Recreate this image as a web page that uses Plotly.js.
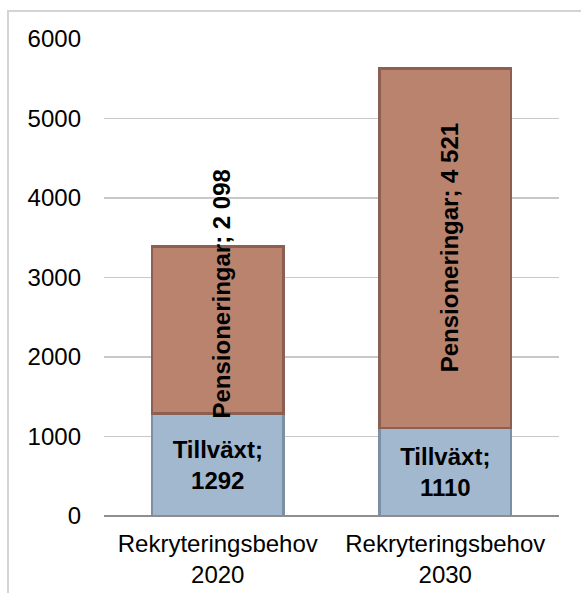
<!DOCTYPE html>
<html>
<head>
<meta charset="utf-8">
<script src="https://cdn.plot.ly/plotly-3.0.1.min.js"></script>
<style>
  html, body { margin: 0; padding: 0; background: #ffffff; }
  #wrap { position: relative; width: 581px; height: 593px; overflow: hidden; }
  #frame { position: absolute; left: 7px; top: 10px; width: 600px; height: 620px;
           border-left: 2px solid #D4D4D4; border-top: 2px solid #D4D4D4; }
  #chart { position: absolute; left: 0; top: 0; width: 581px; height: 593px; }
</style>
</head>
<body>
<div id="wrap">
  <div id="frame"></div>
  <div id="chart"></div>
</div>
<script>
// ---- data ----
var categories = ["Rekryteringsbehov<br>2020", "Rekryteringsbehov<br>2030"];
var tillvaxt = [1292, 1110];
var pensioneringar = [2098, 4521];
var seriesNames = ["Tillväxt", "Pensioneringar"];
var yTicks = [0, 1000, 2000, 3000, 4000, 5000, 6000];

function spaced(n) {
  return String(n).replace(/\B(?=(\d{3})+(?!\d))/g, " ");
}

var FONT = "Liberation Sans, Arial, sans-serif";
var FS = 24;

var traces = [
  {
    type: "bar",
    name: seriesNames[0],
    x: categories,
    y: tillvaxt,
    text: tillvaxt.map(function (v) { return "<b>" + seriesNames[0] + ";<br>" + v + "</b>"; }),
    textposition: "inside",
    insidetextanchor: "middle",
    textangle: 0,
    constraintext: "none",
    textfont: { family: FONT, size: FS, color: "#000000" },
    marker: { color: "#A2B8CF", line: { color: "#7D8FA3", width: 2.5 } },
    hoverinfo: "none"
  },
  {
    type: "bar",
    name: seriesNames[1],
    x: categories,
    y: pensioneringar,
    marker: { color: "#B9836E", line: { color: "#8C5F52", width: 2.5 } },
    hoverinfo: "none"
  }
];

// Pensioneringar labels: centred in the segment, or anchored at the segment base
// when the rotated text is longer than the segment (as the original does).
var plotH = 477, yMax = 6000, approxLen = 10.4 * FS;
var annotations = categories.map(function (c, i) {
  var segPx = pensioneringar[i] / yMax * plotH;
  var fits = segPx >= approxLen;
  return {
    x: c,
    y: fits ? tillvaxt[i] + pensioneringar[i] / 2 : tillvaxt[i],
    xref: "x", yref: "y",
    yanchor: fits ? "middle" : "bottom",
    yshift: fits ? 0 : -7,
    xshift: 4,
    text: "<b>" + seriesNames[1] + "; " + spaced(pensioneringar[i]) + "</b>",
    textangle: -90,
    showarrow: false,
    font: { family: FONT, size: FS, color: "#000000" }
  };
});

var layout = {
  width: 581,
  height: 593,
  margin: { l: 104, r: 22, t: 39, b: 77, pad: 0 },
  paper_bgcolor: "rgba(0,0,0,0)",
  plot_bgcolor: "rgba(0,0,0,0)",
  barmode: "stack",
  bargap: 0.42,
  showlegend: false,
  font: { family: FONT, size: FS, color: "#000000" },
  xaxis: {
    type: "category",
    showgrid: false,
    showline: false,
    zeroline: false,
    ticks: "",
    ticklabelstandoff: 11,
    tickfont: { family: FONT, size: FS, color: "#000000" }
  },
  yaxis: {
    range: [0, 6000],
    tickvals: yTicks,
    ticktext: yTicks.map(String),
    showgrid: true,
    gridcolor: "#C8C8C8",
    gridwidth: 1.5,
    zeroline: true,
    zerolinecolor: "#8E8E8E",
    zerolinewidth: 1.5,
    showline: false,
    ticks: "",
    ticklabelstandoff: 22,
    tickfont: { family: FONT, size: FS, color: "#000000" }
  },
  annotations: annotations
};

Plotly.newPlot("chart", traces, layout, { staticPlot: true, displayModeBar: false });
</script>
</body>
</html>
